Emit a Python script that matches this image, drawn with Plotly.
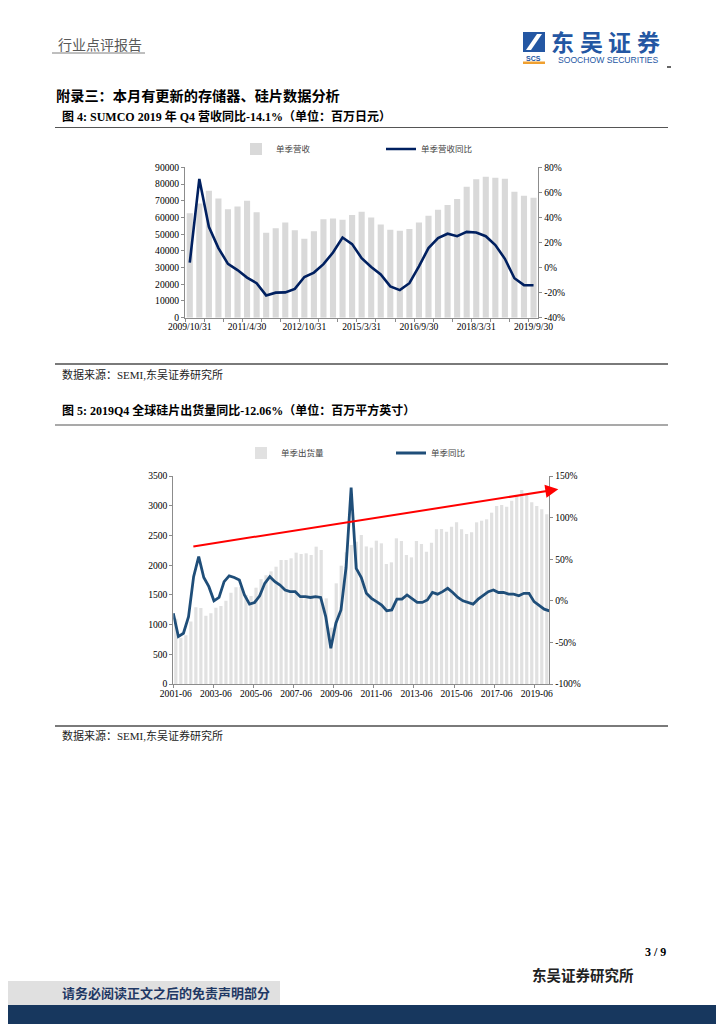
import plotly.graph_objects as go

W, H = 724, 1024
OFF = 8  # page body margin of the html page
SERIF = "Liberation Serif, Noto Sans CJK SC"
CJK = "Noto Sans CJK SC"

# ---------------- Chart 1: SUMCO quarterly revenue ----------------
sumco_quarters = ["2009/10/31", "2010/1/31", "2010/4/30", "2010/7/31", "2010/10/31", "2011/1/31",
                  "2011/4/30", "2011/7/31", "2011/10/31", "2012/1/31", "2012/4/30", "2012/7/31",
                  "2012/10/31", "2013/12/31", "2014/3/31", "2014/6/30", "2014/9/30", "2014/12/31",
                  "2015/3/31", "2015/6/30", "2015/9/30", "2015/12/31", "2016/3/31", "2016/6/30",
                  "2016/9/30", "2016/12/31", "2017/3/31", "2017/6/30", "2017/9/30", "2017/12/31",
                  "2018/3/31", "2018/6/30", "2018/9/30", "2018/12/31", "2019/3/31", "2019/6/30",
                  "2019/9/30"]
sumco_revenue = [62500, 68300, 76000, 71400, 64900, 66500, 70000, 63100, 50900, 53500, 56900, 52300,
                 47300, 51800, 58900, 59300, 58600, 61500, 63400, 60000, 55800, 52600, 52100, 53100,
                 56900, 61000, 64600, 67400, 71000, 78300, 82900, 84400, 83800, 83100, 75400, 73000,
                 71800]
sumco_yoy = [0.04, 0.707, 0.325, 0.155, 0.03, -0.02, -0.08, -0.125, -0.222, -0.20, -0.198, -0.17,
             -0.075, -0.04, 0.027, 0.12, 0.24, 0.187, 0.075, 0.005, -0.055, -0.15, -0.18, -0.125,
             0.01, 0.155, 0.235, 0.27, 0.25, 0.285, 0.28, 0.25, 0.18, 0.07, -0.085, -0.14, -0.141]
sumco_label_step = 6
sumco_left_ticks = [0, 10000, 20000, 30000, 40000, 50000, 60000, 70000, 80000, 90000]
sumco_right_ticks = [-0.4, -0.2, 0.0, 0.2, 0.4, 0.6, 0.8]
sumco_right_text = ["-40%", "-20%", "0%", "20%", "40%", "60%", "80%"]

# ---------------- Chart 2: global silicon wafer shipments ----------------
wafer_quarters = [f"{y}-{m}" for y in range(2001, 2020) for m in ("03", "06", "09", "12")][1:]
wafer_area = [1100, 780, 820, 1050, 1290, 1279, 1150, 1189, 1284, 1312, 1402, 1537, 1627, 1638, 1500,
              1481, 1621, 1765, 1830, 1895, 1974, 2087, 2087, 2115, 2210, 2188, 2199, 2171, 2311, 2255,
              1441, 948, 1694, 1991, 2216, 2340, 2395, 2507, 2315, 2294, 2412, 2367, 2019, 2047, 2451,
              2406, 2171, 2131, 2406, 2356, 2227, 2378, 2603, 2608, 2563, 2647, 2720, 2603, 2524, 2552,
              2720, 2748, 2771, 2883, 2995, 3012, 2984, 3085, 3180, 3264, 3197, 3057, 2995, 2939, 2855]
wafer_yoy = [-0.15, -0.43, -0.39, -0.19, 0.29, 0.53, 0.28, 0.17, 0.0, 0.04, 0.23, 0.30, 0.28, 0.25,
             0.07, -0.04, -0.02, 0.06, 0.21, 0.29, 0.23, 0.19, 0.13, 0.11, 0.11, 0.05, 0.05, 0.04, 0.05,
             0.04, -0.19, -0.57, -0.27, -0.11, 0.40, 1.36, 0.39, 0.28, 0.09, 0.03, -0.01, -0.05, -0.12,
             -0.11, 0.02, 0.02, 0.07, 0.03, -0.02, -0.02, 0.01, 0.10, 0.08, 0.11, 0.15, 0.10, 0.04,
             0.0, -0.02, -0.04, 0.02, 0.07, 0.11, 0.13, 0.10, 0.10, 0.08, 0.08, 0.06, 0.09, 0.09, -0.01,
             -0.06, -0.10, -0.1206]
wafer_label_step = 8
wafer_left_ticks = [0, 500, 1000, 1500, 2000, 2500, 3000, 3500]
wafer_right_ticks = [-1.0, -0.5, 0.0, 0.5, 1.0, 1.5]
wafer_right_text = ["-100%", "-50%", "0%", "50%", "100%", "150%"]
trend_start = (3.2, 2311)   # trend arrow (category index, shipment value)
trend_end = (76.3, 3277)


def px(x):
    return (x - OFF) / W


def py(y):
    return 1 - (y - OFF) / H


sumco_x = list(range(len(sumco_quarters)))
wafer_x = list(range(len(wafer_quarters)))

fig = go.Figure()
fig.add_trace(go.Bar(x=sumco_x, y=sumco_revenue, name="单季营收", marker=dict(color="#d9d9d9", line=dict(width=0)),
                     xaxis="x", yaxis="y", legend="legend"))
fig.add_trace(go.Scatter(x=sumco_x, y=sumco_yoy, name="单季营收同比", mode="lines",
                         line=dict(color="#002060", width=2.6), xaxis="x", yaxis="y2", legend="legend"))
fig.add_trace(go.Bar(x=wafer_x, y=wafer_area, name="单季出货量", marker=dict(color="#e1e1e1", line=dict(width=0)),
                     xaxis="x3", yaxis="y3", legend="legend2"))
fig.add_trace(go.Scatter(x=wafer_x, y=wafer_yoy, name="单季同比", mode="lines",
                         line=dict(color="#1f4e79", width=2.8), xaxis="x4", yaxis="y4", legend="legend2"))

axis_common = dict(showgrid=False, zeroline=False, showline=True, linecolor="#8c8c8c", linewidth=1,
                   automargin=False,
                   tickfont=dict(family=SERIF, size=9.6, color="#000"), tickcolor="#8c8c8c")

c1x = [px(185), px(538.3)]
c1y = [py(317.7), py(167.3)]
c2x = [px(173.3), px(549.3)]
c2y = [py(684), py(476)]

fig.update_layout(
    template="none",
    width=W, height=H, margin=dict(l=0, r=0, t=0, b=0, pad=0), autosize=False,
    paper_bgcolor="white", plot_bgcolor="white", bargap=0.36, showlegend=True,
    xaxis=dict(domain=c1x, anchor="y", range=[-0.5, len(sumco_x) - 0.5],
               tickvals=sumco_x[::sumco_label_step], ticktext=sumco_quarters[::sumco_label_step],
               ticks="", minor=dict(ticks="outside", tick0=-0.5, dtick=2, ticklen=3, tickcolor="#8c8c8c",
                                    showgrid=False),
               **axis_common),
    yaxis=dict(domain=c1y, anchor="x", range=[0, 90000], tickvals=sumco_left_ticks, tickformat="d",
               ticks="outside", ticklen=3, **axis_common),
    yaxis2=dict(overlaying="y", side="right", anchor="x", range=[-0.4, 0.8],
                tickvals=sumco_right_ticks, ticktext=sumco_right_text, ticks="outside", ticklen=3,
                **axis_common),
    xaxis3=dict(domain=c2x, anchor="y3", range=[-0.5, len(wafer_x) - 0.5],
                tickvals=wafer_x[::wafer_label_step], ticktext=wafer_quarters[::wafer_label_step],
                ticks="", minor=dict(ticks="outside", tick0=-0.5, dtick=8, ticklen=3, tickcolor="#8c8c8c",
                                     showgrid=False),
                **axis_common),
    yaxis3=dict(domain=c2y, anchor="x3", range=[0, 3500], tickvals=wafer_left_ticks, tickformat="d",
                ticks="outside", ticklen=3, **axis_common),
    xaxis4=dict(overlaying="x3", anchor="y4", range=[0, len(wafer_x) - 1], visible=False,
                automargin=False),
    yaxis4=dict(overlaying="y3", side="right", anchor="x3", range=[-1.0, 1.5],
                tickvals=wafer_right_ticks, ticktext=wafer_right_text, ticks="outside", ticklen=3,
                **axis_common),
    legend=dict(orientation="h", x=px(236), y=py(149), xanchor="left", yanchor="middle",
                font=dict(family=CJK, size=8.5, color="#444"), bgcolor="rgba(0,0,0,0)",
                entrywidth=100, entrywidthmode="pixels", itemwidth=30, traceorder="normal"),
    legend2=dict(orientation="h", x=px(241), y=py(453), xanchor="left", yanchor="middle",
                 font=dict(family=CJK, size=8.5, color="#444"), bgcolor="rgba(0,0,0,0)",
                 entrywidth=105, entrywidthmode="pixels", itemwidth=30, traceorder="normal"),
)

ann = []


def txt(x, y, s, size, color="#000", anchor="left", family=SERIF):
    ann.append(dict(xref="paper", yref="paper", x=px(x), y=py(y), text=s, showarrow=False,
                    xanchor=anchor, yanchor="middle", font=dict(family=family, size=size, color=color)))


txt(56, 44, "行业点评报告", 14, "#595959", family=CJK)
for k, ch in enumerate("东吴证券"):
    txt(562.5 + 28.7 * k, 40.5, f"<b>{ch}</b>", 23, "#2457a3", anchor="center", family=CJK)
txt(556, 60, "SOOCHOW SECURITIES", 8.6, "#2457a3", family="Liberation Sans")
txt(533.5, 58, "<b>SCS</b>", 7, "#2457a3", anchor="center", family="Liberation Sans")
txt(54, 96, "<b>附录三：本月有更新的存储器、硅片数据分析</b>", 14.2)
txt(60, 116, "<b>图 4: SUMCO 2019 年 Q4 营收同比-14.1%（单位：百万日元）</b>", 12)
txt(60, 374, "数据来源：SEMI,东吴证券研究所", 11, "#222")
txt(60, 410, "<b>图 5: 2019Q4 全球硅片出货量同比-12.06%（单位：百万平方英寸）</b>", 12)
txt(60, 735, "数据来源：SEMI,东吴证券研究所", 11, "#222")
txt(668, 952, "<b>3 / 9</b>", 12, anchor="right")
txt(636, 975, "<b>东吴证券研究所</b>", 14.5, "#222", anchor="right")
txt(60, 993, "<b>请务必阅读正文之后的免责声明部分</b>", 13, "#1f3864")

ann.append(dict(xref="x3", yref="y3", x=trend_end[0], y=trend_end[1], axref="x3", ayref="y3",
                ax=trend_start[0], ay=trend_start[1], text="", showarrow=True, arrowhead=2,
                arrowsize=1.3, arrowwidth=2, arrowcolor="#ff0000"))
fig.update_layout(annotations=ann)

shapes = []


def hline(y, x0, x1, color, width):
    shapes.append(dict(type="line", xref="paper", yref="paper", x0=px(x0), x1=px(x1), y0=py(y), y1=py(y),
                       line=dict(color=color, width=width)))


def rect(x0, y0, x1, y1, fill):
    shapes.append(dict(type="rect", xref="paper", yref="paper", x0=px(x0), x1=px(x1), y0=py(y1), y1=py(y0),
                       fillcolor=fill, line=dict(width=0), layer="below"))


hline(53, 52, 145, "#7f7f7f", 1)
hline(127.5, 55, 668, "#555555", 1.2)
hline(364, 55, 668, "#7a7a7a", 1.8)
hline(425, 55, 668, "#555555", 1.2)
hline(726, 55, 668, "#7a7a7a", 1.8)
hline(67, 667, 671, "#333333", 1.5)
# logo
rect(523, 32, 545, 52, "#2457a3")
shapes.append(dict(type="path", xref="paper", yref="paper",
                   path=f"M {px(526)},{py(50)} L {px(531)},{py(50)} L {px(542)},{py(34)} L {px(537)},{py(34)} Z",
                   fillcolor="white", line=dict(width=0)))
rect(523, 61.5, 545, 64, "#f0a030")
# footer
rect(0, 981, 280, 1006, "#e0e0e0")
rect(0, 1005, 740, 1040, "#17375e")
fig.update_layout(shapes=shapes)

fig.write_html("out.html")
